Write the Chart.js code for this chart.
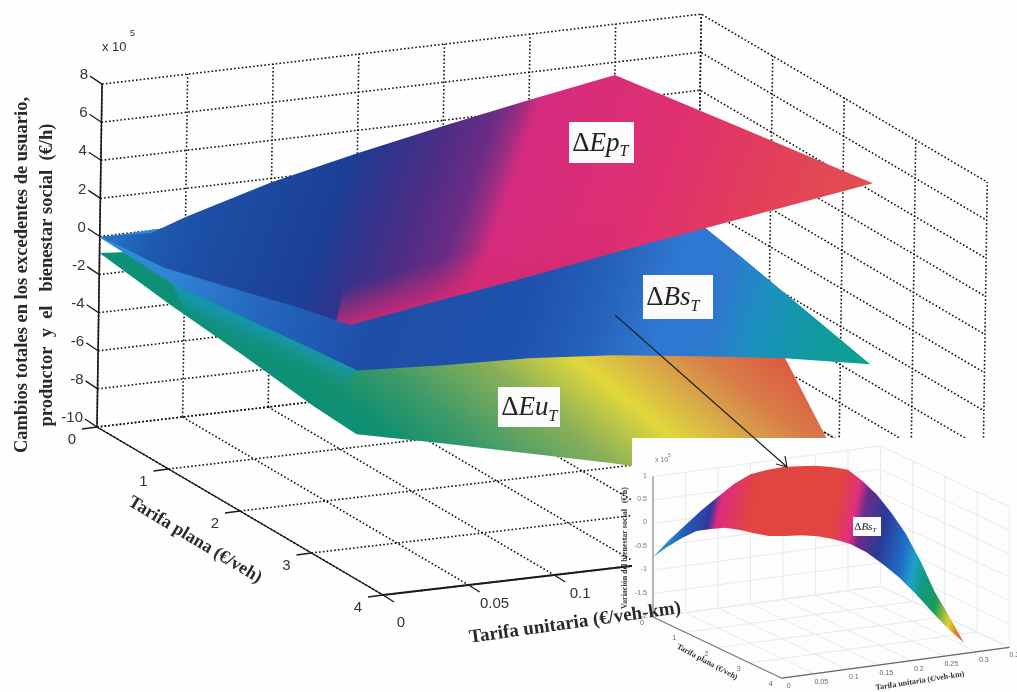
<!DOCTYPE html>
<html>
<head>
<meta charset="utf-8">
<style>
  html, body { margin: 0; padding: 0; background: #fefefe; }
  canvas { display: block; filter: blur(0.4px); }
</style>
<script src="https://cdn.jsdelivr.net/npm/chart.js@4"></script>
</head>
<body>
<canvas id="surfaceChart" width="1017" height="692"></canvas>
<script>
// Axis ticks of the main plot
const planaTicks = [0, 1, 2, 3, 4];
const unitariaTicks = [0, 0.05, 0.1, 0.15, 0.2, 0.25, 0.3, 0.35];
const valueTicks = [-10, -8, -6, -4, -2, 0, 2, 4, 6, 8];

// Surface outlines, walking the edge of each sheet (x 10^5 €/h)
const epPlana = [0, 0.9, 1.8, 2.7, 3.5, 3.6, 3.6, 3.6, 3.6, 3.6, 3.6, 1.8, 0, 0, 0, 0, 0, 0, 0, 0];
const epUnitaria = [0, 0, 0, 0, 0, 0.05, 0.1, 0.15, 0.2, 0.25, 0.3, 0.3, 0.3, 0.25, 0.2, 0.15, 0.1, 0.05, 0.03, 0];
const epValue = [0, 0.34, 1.3, 2.3, 3.07, 4.12, 4.8, 5.54, 6.22, 6.9, 7.58, 6.46, 5.33, 4.54, 3.7, 2.8, 1.8, 0.5, -0.13, 0];

const bsPlana = [0, 1, 2, 3, 3.6, 3.6, 3.6, 3.6, 3.6, 3.6, 3.6, 1.8, 0, 0, 0, 0, 0, 0, 0];
const bsUnitaria = [0, 0, 0, 0, 0, 0.05, 0.1, 0.15, 0.2, 0.25, 0.3, 0.3, 0.3, 0.25, 0.2, 0.15, 0.1, 0.05, 0];
const bsValue = [-0.05, -0.24, 0.18, 0.66, 0.9, 0.66, 0.5, 0.13, -0.45, -1.08, -1.92, -0.29, 1.2, 0.9, 0.6, 0.3, 0.08, 0.08, -0.05];

const euPlana = [0, 1, 2, 3, 3.6, 3.6, 3.6, 3.6, 3.6, 3.6, 3.6, 3, 2.4, 1.2, 0, 0, 0, 0, 0, 0, 0];
const euUnitaria = [0, 0, 0, 0, 0, 0.05, 0.1, 0.15, 0.2, 0.25, 0.3, 0.3, 0.3, 0.3, 0.3, 0.25, 0.2, 0.15, 0.1, 0.05, 0];
const euValue = [-0.87, -1.4, -1.8, -2.3, -2.44, -3.44, -4.49, -5.54, -6.7, -8, -9.5, -7.06, -4.12, -3.5, -3, -2.81, -2.4, -1.92, -1.5, -1.23, -0.87];

// Shaded patches: reddish foot of the producer sheet, teal strip of the user sheet
const epFootPlana = [3.3, 3.5, 3.6, 3.6, 3.6, 3.6, 3.42];
const epFootUnitaria = [0, 0, 0.05, 0.1, 0.15, 0.15, 0];
const epFootValue = [2.84, 3.07, 4.12, 4.8, 5.54, 8.27, 5.46];
const euStripPlana = [1, 2, 3, 3.6, 3.36, 2.1, 1.26];
const euStripUnitaria = [0, 0, 0, 0, 0, 0, 0];
const euStripValue = [-0.24, 0.18, 0.66, 0.9, -0.66, -1.34, -1.44];

// Inset: social welfare on its own axes
const insetPlanaTicks = [0, 1, 2, 3, 4];
const insetUnitariaTicks = [0, 0.05, 0.1, 0.15, 0.2, 0.25, 0.3, 0.35];
const insetValueTicks = [-2, -1.5, -1, -0.5, 0, 0.5, 1];
const insetPlana = [0, 0.45, 0.9, 1.35, 1.8, 2.25, 2.7, 3.15, 3.6,
  3.6, 3.6, 3.6, 3.6, 3.6, 3.6, 3.6, 3.6, 3.6, 3.6, 3.6, 3.6,
  3.15, 2.7, 2.25, 1.8, 1.35, 0.9, 0.45, 0,
  0, 0, 0, 0, 0, 0, 0, 0, 0, 0, 0, 0];
const insetUnitaria = [0, 0, 0, 0, 0, 0, 0, 0, 0,
  0.025, 0.05, 0.075, 0.1, 0.125, 0.15, 0.175, 0.2, 0.225, 0.25, 0.275, 0.3,
  0.3, 0.3, 0.3, 0.3, 0.3, 0.3, 0.3, 0.3,
  0.275, 0.25, 0.225, 0.2, 0.175, 0.15, 0.125, 0.1, 0.075, 0.05, 0.025, 0];
const insetValue = [-0.72, -0.35, -0.02, 0.28, 0.47, 0.64, 0.74, 0.82, 0.91,
  0.86, 0.83, 0.76, 0.65, 0.5, 0.28, -0.02, -0.35, -0.74, -1.17, -1.58, -1.94,
  -1.53, -1.15, -0.63, -0.2, 0.1, 0.34, 0.49, 0.58,
  0.69, 0.76, 0.8, 0.83, 0.81, 0.77, 0.61, 0.38, 0.145, -0.13, -0.4, -0.72];

// Colour bands of each sheet
const epStops = [0, 0.07, 0.14, 0.295, 0.345, 0.41, 0.47, 0.5, 0.523, 0.73, 0.87, 1];
const epColors = ['#2a79c9', '#1e5bb0', '#1c4fa5', '#1c3f96', '#30348c', '#4d2d85', '#6a2c85', '#9a2d80', '#d52b80', '#e0306f', '#e24058', '#e2504f'];
const bsStops = [0, 0.11, 0.22, 0.37, 0.56, 0.64, 0.73, 0.79, 0.85, 0.93, 1];
const bsColors = ['#2f8fd8', '#2f83d5', '#2468c0', '#1d4fa8', '#1f52ad', '#2560b8', '#2f78d2', '#2f78d0', '#1c8fc0', '#109a9f', '#10a090'];
const euStops = [0, 0.111, 0.25, 0.444, 0.6, 0.722, 0.833, 1];
const euColors = ['#0d8f7a', '#109070', '#3d9a68', '#8cb058', '#e0d83a', '#d9a848', '#d87c48', '#e05040'];
const insetStops = [0, 0.08, 0.15, 0.177, 0.28, 0.54, 0.6, 0.63, 0.7, 0.78, 0.82, 0.855, 0.91, 0.965, 1];
const insetColors = ['#35a8c8', '#2060b8', '#30389a', '#e02a80', '#e0463f', '#e0463f', '#e02f80', '#6a2d88', '#2a3a98', '#1f6fc8', '#20a0c8', '#129a8a', '#1a9a5a', '#e0d030', '#e07030'];
const epFootColors = ['rgba(215,42,115,0.8)', 'rgba(215,42,115,0)'];
const euStripColors = ['rgba(22,150,175,0.9)', 'rgba(16,144,112,0)'];

const canvas = document.getElementById('surfaceChart');
const ctx = canvas.getContext('2d');

// Orthographic view of the main box
function mainXY(p, u, z) {
  return { x: 97 + 71.5 * p + 1712 * u + 0.28 * (z + 10), y: 427 + 42 * p - 200 * u - 19.05 * (z + 10) };
}
// Same for the inset box
function insetXY(p, u, z) {
  return { x: 653 + 32.2 * p + 650 * u, y: 617 + 15.3 * p - 88 * u - 46.8 * (z + 2) };
}

function makeGradient(x0, y0, x1, y1, stops, colors) {
  const g = ctx.createLinearGradient(x0, y0, x1, y1);
  stops.forEach((s, i) => g.addColorStop(s, colors[i]));
  return g;
}

function sheet(project, plana, unitaria, value, fillStyle, order) {
  return {
    data: plana.map((p, i) => project(p, unitaria[i], value[i])),
    showLine: true,
    fill: 'shape',
    backgroundColor: fillStyle,
    borderWidth: 0,
    pointRadius: 0,
    order: order
  };
}

function stroke(points, color, width, dash, order) {
  return {
    data: points,
    showLine: true,
    fill: false,
    borderColor: color,
    borderWidth: width,
    borderDash: dash,
    pointRadius: 0,
    order: order
  };
}

// Box grid on the back wall, the right wall and the floor
function boxGrid(project, pTicks, uTicks, zTicks, color, width, dash, order) {
  const out = [];
  const pEnd = pTicks[pTicks.length - 1], uEnd = uTicks[uTicks.length - 1];
  const zLow = zTicks[0], zTop = zTicks[zTicks.length - 1];
  zTicks.forEach(z => {
    out.push(stroke([project(0, 0, z), project(0, uEnd, z), project(pEnd, uEnd, z)], color, width, dash, order));
  });
  uTicks.forEach(u => {
    out.push(stroke([project(0, u, zLow), project(0, u, zTop)], color, width, dash, order));
    out.push(stroke([project(0, u, zLow), project(pEnd, u, zLow)], color, width, dash, order));
  });
  pTicks.forEach(p => {
    out.push(stroke([project(p, 0, zLow), project(p, uEnd, zLow)], color, width, dash, order));
    out.push(stroke([project(p, uEnd, zLow), project(p, uEnd, zTop)], color, width, dash, order));
  });
  return out;
}

function tick(pt, dx, dy, color, width, order) {
  return stroke([pt, { x: pt.x + dx, y: pt.y + dy }], color, width, [], order);
}

const datasets = [];

// Main plot, far to near
datasets.push(...boxGrid(mainXY, planaTicks, unitariaTicks, valueTicks, '#111111', 1.6, [1.6, 2.2], 50));
datasets.push(sheet(mainXY, euPlana, euUnitaria, euValue,
  makeGradient(340.4, 447.6, 567, 167, euStops, euColors), 41));
datasets.push(sheet(mainXY, euStripPlana, euStripUnitaria, euStripValue,
  makeGradient(265, 330, 252, 360, [0, 1], euStripColors), 40));
datasets.push(sheet(mainXY, bsPlana, bsUnitaria, bsValue,
  makeGradient(100, 236, 833, 468, bsStops, bsColors), 39));
datasets.push(sheet(mainXY, epPlana, epUnitaria, epValue,
  makeGradient(100, 236, 768, 471, epStops, epColors), 38));
datasets.push(sheet(mainXY, epFootPlana, epFootUnitaria, epFootValue,
  makeGradient(420, 304, 410, 268, [0, 1], epFootColors), 37.5));

const axisColor = '#1a1a1a';
datasets.push(stroke([mainXY(0, 0, -10), mainXY(0, 0, 8)], axisColor, 1.6, [], 37));
datasets.push(stroke([mainXY(0, 0, -10), mainXY(4, 0, -10)], axisColor, 1.4, [], 37));
datasets.push(stroke([mainXY(4, 0, -10), mainXY(4, 0.35, -10)], axisColor, 1.8, [], 37));
valueTicks.forEach(z => datasets.push(tick(mainXY(0, 0, z), -12, -8, axisColor, 1.3, 37)));
planaTicks.forEach(p => datasets.push(tick(mainXY(p, 0, -10), -15, 2, axisColor, 1.3, 37)));
unitariaTicks.forEach(u => datasets.push(tick(mainXY(4, u, -10), 11, 7, axisColor, 1.3, 37)));

// Inset panel sits on top of the main plot
datasets.push({
  data: [{ x: 632, y: 438 }, { x: 1017, y: 438 }, { x: 1017, y: 692 }, { x: 632, y: 692 }, { x: 632, y: 438 }],
  showLine: true, fill: 'shape', backgroundColor: '#fdfdfd', borderWidth: 0, pointRadius: 0, order: 30
});
datasets.push(...boxGrid(insetXY, insetPlanaTicks, insetUnitariaTicks, insetValueTicks, '#e9e9e9', 1, [], 29));
datasets.push(stroke([insetXY(0, 0, -2), insetXY(0, 0, 1)], '#8a8a8a', 1.2, [], 28));
datasets.push(stroke([insetXY(0, 0, -2), insetXY(4, 0, -2)], '#777777', 1.1, [], 28));
datasets.push(stroke([insetXY(4, 0, -2), insetXY(4, 0.35, -2)], '#666666', 1.2, [], 28));
datasets.push(sheet(insetXY, insetPlana, insetUnitaria, insetValue,
  makeGradient(653, 557, 960.5, 620, insetStops, insetColors), 27));

const serif = '"Liberation Serif", serif';
const sans = '"Liberation Sans", Arial, sans-serif';

function label(c, text, x, y, font, color, align, angle) {
  c.save();
  c.translate(x, y);
  c.rotate((angle || 0) * Math.PI / 180);
  c.font = font;
  c.fillStyle = color || '#222';
  c.textAlign = align || 'center';
  c.textBaseline = 'middle';
  c.fillText(text, 0, 0);
  c.restore();
}

// White tag with a Delta, an italic symbol and a subscript
function mathTag(c, sym, left, top, right, bottom, size) {
  c.fillStyle = '#fbfbfb';
  c.fillRect(left, top, right - left, bottom - top);
  c.fillStyle = '#222';
  c.textBaseline = 'alphabetic';
  c.textAlign = 'left';
  const base = (top + bottom) / 2 + size * 0.3;
  let x = left + size * 0.12;
  c.font = size + 'px ' + serif;
  c.fillText('\u0394', x, base);
  x += c.measureText('\u0394').width;
  c.font = 'italic ' + size + 'px ' + serif;
  c.fillText(sym, x, base);
  x += c.measureText(sym).width;
  c.font = 'italic ' + Math.round(size * 0.6) + 'px ' + serif;
  c.fillText('T', x, base + size * 0.2);
}

const labelsPlugin = {
  id: 'labels',
  afterDraw(chart) {
    const c = chart.ctx;

    // Main tick labels
    valueTicks.forEach(z => {
      const pt = mainXY(0, 0, z);
      label(c, String(z), pt.x - 14, pt.y - 9, '15px ' + sans, '#333', 'right');
    });
    planaTicks.forEach(p => {
      const pt = mainXY(p, 0, -10);
      label(c, String(p), pt.x - 25, pt.y + 13, '15px ' + sans, '#333');
    });
    [0, 0.05, 0.1].forEach(u => {
      const pt = mainXY(4, u, -10);
      label(c, String(u), pt.x + (u === 0 ? 18 : 26), pt.y + (u === 0 ? 28 : 19), '15px ' + sans, '#333');
    });
    label(c, 'x 10', 102, 47, '13px ' + sans, '#333', 'left');
    label(c, '5', 130, 34, '9px ' + sans, '#333', 'left');

    // Main axis titles
    const titleFont = 'bold 18.5px ' + serif;
    label(c, 'Cambios totales en los excedentes de usuario,', 22, 275, titleFont, '#2a2a2a', 'center', -90);
    label(c, 'productor  y  el   bienestar social  (\u20AC/h)', 47, 275, titleFont, '#2a2a2a', 'center', -90);
    label(c, 'Tarifa plana (\u20AC/veh)', 195, 540, 'bold 18px ' + serif, '#2a2a2a', 'center', 31);

    mathTag(c, 'Ep', 569, 122, 634, 163, 27);
    mathTag(c, 'Bs', 643, 275, 713, 319, 27);
    mathTag(c, 'Eu', 498, 387, 560, 427, 27);
    mathTag(c, 'Bs', 853, 517, 881, 536, 11);

    // Inset labels
    const small = '7px ' + sans;
    insetValueTicks.forEach(z => {
      const pt = insetXY(0, 0, z);
      label(c, String(z), pt.x - 6, pt.y - 1, small, '#777', 'right');
    });
    insetPlanaTicks.forEach(p => {
      const pt = insetXY(p, 0, -2);
      label(c, String(p), pt.x - 11, pt.y + 6, small, '#666');
    });
    insetUnitariaTicks.forEach(u => {
      const pt = insetXY(4, u, -2);
      label(c, String(u), pt.x + 7, pt.y + 8, small, '#666');
    });
    label(c, 'x 10', 655, 460, small, '#777', 'left');
    label(c, '5', 668, 456, '5px ' + sans, '#777', 'left');
    const insetTitle = 'bold 8px ' + serif;
    label(c, 'Variaci\u00F3n del bienestar social   (\u20AC/h)', 625, 548, insetTitle, '#333', 'center', -90);
    label(c, 'Tarifa plana (\u20AC/veh)', 707, 662, insetTitle, '#333', 'center', 28);
    label(c, 'Tarifa unitaria (\u20AC/veh-km)', 920, 681, insetTitle, '#333', 'center', -9);

    // Main title that runs over the inset panel
    label(c, 'Tarifa unitaria (\u20AC/veh-km)', 575, 623, 'bold 19px ' + serif, '#2a2a2a', 'center', -8);

    // Arrow from the welfare sheet to the inset
    c.strokeStyle = '#222';
    c.lineWidth = 1.2;
    c.beginPath();
    c.moveTo(615, 315);
    c.lineTo(787, 467);
    c.moveTo(776, 464);
    c.lineTo(787, 467);
    c.lineTo(785, 456);
    c.stroke();
  }
};

new Chart(ctx, {
  type: 'scatter',
  data: { datasets: datasets },
  options: {
    responsive: false,
    animation: false,
    layout: { padding: 0 },
    plugins: { legend: { display: false }, tooltip: { enabled: false } },
    scales: {
      x: { type: 'linear', min: 0, max: 1017, display: false },
      y: { type: 'linear', min: 0, max: 692, reverse: true, display: false }
    }
  },
  plugins: [labelsPlugin]
});
</script>
</body>
</html>
